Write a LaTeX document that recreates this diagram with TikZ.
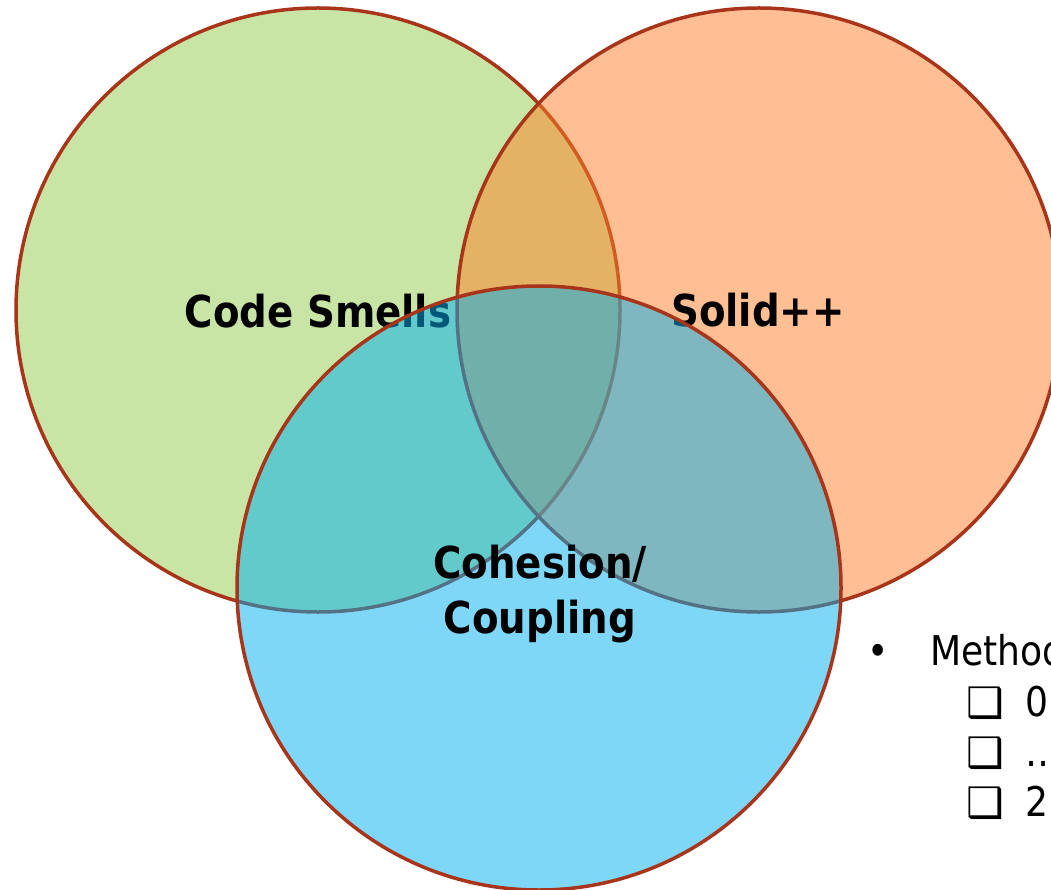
\documentclass[tikz,border=0pt]{standalone}
\usepackage{fontspec}
\setmainfont{DejaVu Sans}
\newfontfamily\tahfont{DejaVu Sans}[FakeStretch=0.88]
\definecolor{cgreen}{HTML}{92CD4F}
\definecolor{corange}{HTML}{FF8026}
\definecolor{cblue}{HTML}{00B0F0}
\definecolor{cline}{HTML}{A8341A}
\begin{document}
\begin{tikzpicture}[x=1pt,y=-1pt,
  venn/.style={draw=cline, line width=3.5pt, fill opacity=0.5, draw opacity=1},
  lbl/.style={font=\tahfont\fontsize{44}{55}\selectfont\bfseries, text=black, inner sep=0pt, anchor=base},
  itm/.style={font=\tahfont\fontsize{41}{50}\selectfont, text=black, inner sep=0pt, anchor=base west},
  box/.style={font=\fontsize{42}{48}\selectfont, text=black, inner sep=0pt, anchor=base west}]
\useasboundingbox (0,0) rectangle (1051,890);
\fill[white] (0,0) rectangle (1051,890);
\clip (0,0) rectangle (1051,890);
% circles
\path[venn, fill=cgreen] (318,310) circle (302pt);
\path[venn, fill=corange] (759,310) circle (302pt);
\node[lbl] (cs) at (318,327) {Code Smells};
\node[lbl] (sd) at (758,326) {Solid++};
\path[venn, fill=cblue] (539,588) circle (302pt);
\node[lbl] (coh) at (540,578) {Cohesion/};
\node[lbl] (cpl) at (540,633) {Coupling};
% bullet list
\node[itm, anchor=base] (bul) at (878,665) {•};
\node[itm] (meth) at (930,665) {Method};
\node[box] (b1) at (966,717) {❑};
\node[itm] (t1) at (1025,716) {0};
\node[box] (b2) at (966,767) {❑};
\node[itm] (t2) at (1025,766) {…};
\node[box] (b3) at (966,817) {❑};
\node[itm] (t3) at (1025,816) {2};
\end{tikzpicture}
\end{document}
